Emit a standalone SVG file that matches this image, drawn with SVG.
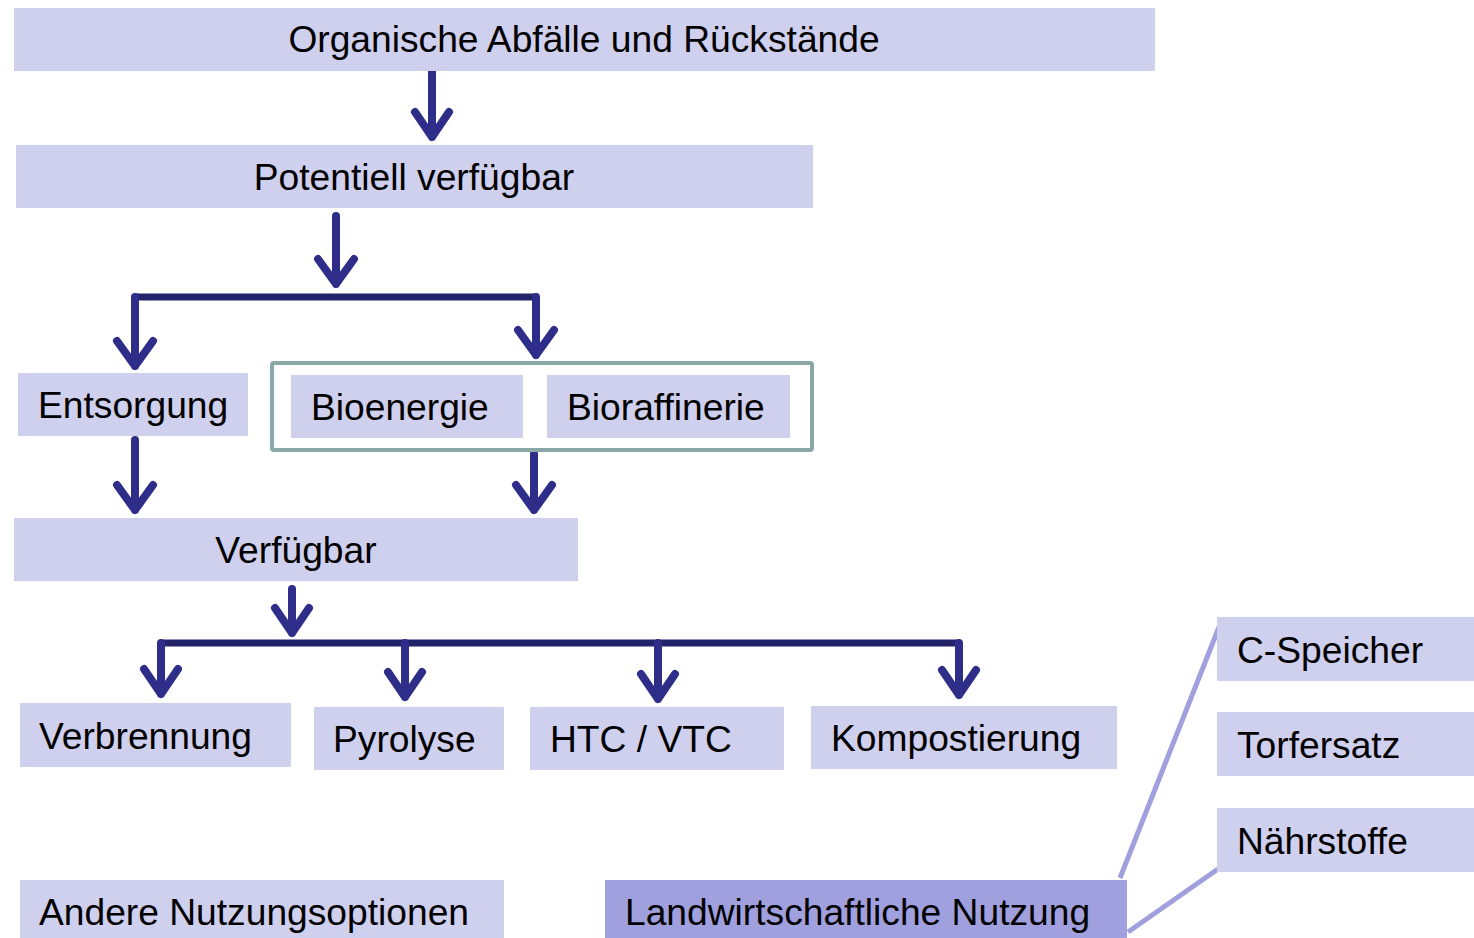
<svg xmlns="http://www.w3.org/2000/svg" width="1474" height="938" viewBox="0 0 1474 938">
<style>
.box{fill:#cfcfee}
.dark{fill:#a0a0de}
.t{font-family:"Liberation Sans",Arial,sans-serif;font-size:37.2px;fill:#000}
.c{text-anchor:middle}
.arr{fill:none;stroke:#2e2e8a;stroke-width:8;stroke-linecap:round;stroke-linejoin:round}
.bar{fill:none;stroke:#22226a;stroke-width:7}
.ln{stroke:#a0a0de;stroke-width:5;fill:none}
</style>
<rect width="1474" height="938" fill="#fff"/>
<g id="connectors">
<path class="arr" d="M432 70V137M415 112L432 137L449 112"/>
<path class="arr" d="M336 216V284M318 259L336 284L354 259"/>
<path class="bar" d="M135 297H538"/>
<path class="arr" d="M135 297V366M117 341L135 366L153 341"/>
<path class="arr" d="M536 297V355M518 330L536 355L554 330"/>
<path class="arr" d="M135 440V510M117 485L135 510L153 485"/>
<path class="arr" d="M534 454V510M516 485L534 510L552 485"/>
<path class="arr" d="M292 589V633M275 608L292 633L309 608"/>
<path class="bar" d="M160 643H960"/>
<path class="arr" d="M161 643V694M144 669L161 694L178 669"/>
<path class="arr" d="M405 643V697M388 672L405 697L422 672"/>
<path class="arr" d="M658 643V699M641 674L658 699L675 674"/>
<path class="arr" d="M959 643V695M942 670L959 695L976 670"/>
<path class="ln" d="M1120 878L1221 622"/>
<path class="ln" d="M1128 932L1218 869"/>
</g>
<g id="n-organisch"><rect class="box" x="14" y="8" width="1141" height="63"/><text class="t c" x="584" y="52">Organische Abfälle und Rückstände</text></g>
<g id="n-potentiell"><rect class="box" x="16" y="145" width="797" height="63"/><text class="t c" x="414" y="190">Potentiell verfügbar</text></g>
<g id="n-entsorgung"><rect class="box" x="18" y="373" width="230" height="63"/><text class="t" x="38" y="418">Entsorgung</text></g>
<g id="g-bio"><rect x="272" y="363" width="540" height="87" rx="2" fill="none" stroke="#8aa8a8" stroke-width="4"/></g>
<g id="n-bioenergie"><rect class="box" x="291" y="375" width="232" height="63"/><text class="t" x="311" y="420">Bioenergie</text></g>
<g id="n-bioraffinerie"><rect class="box" x="547" y="375" width="243" height="63"/><text class="t" x="567" y="420">Bioraffinerie</text></g>
<g id="n-verfuegbar"><rect class="box" x="14" y="518" width="564" height="63"/><text class="t c" x="296" y="563">Verfügbar</text></g>
<g id="n-verbrennung"><rect class="box" x="20" y="703" width="271" height="64"/><text class="t" x="39" y="749">Verbrennung</text></g>
<g id="n-pyrolyse"><rect class="box" x="314" y="707" width="190" height="63"/><text class="t" x="333" y="752">Pyrolyse</text></g>
<g id="n-htc"><rect class="box" x="530" y="707" width="254" height="63"/><text class="t" x="550" y="752">HTC / VTC</text></g>
<g id="n-kompost"><rect class="box" x="811" y="706" width="306" height="63"/><text class="t" x="831" y="751">Kompostierung</text></g>
<g id="n-andere"><rect class="box" x="20" y="880" width="484" height="58"/><text class="t" x="39" y="925">Andere Nutzungsoptionen</text></g>
<g id="n-landwirt"><rect class="dark" x="605" y="880" width="522" height="58"/><text class="t" x="625" y="925">Landwirtschaftliche Nutzung</text></g>
<g id="n-cspeicher"><rect class="box" x="1217" y="617" width="257" height="64"/><text class="t" x="1237" y="663">C-Speicher</text></g>
<g id="n-torf"><rect class="box" x="1217" y="712" width="257" height="64"/><text class="t" x="1237" y="758">Torfersatz</text></g>
<g id="n-naehr"><rect class="box" x="1217" y="808" width="257" height="64"/><text class="t" x="1237" y="854">Nährstoffe</text></g>
</svg>
